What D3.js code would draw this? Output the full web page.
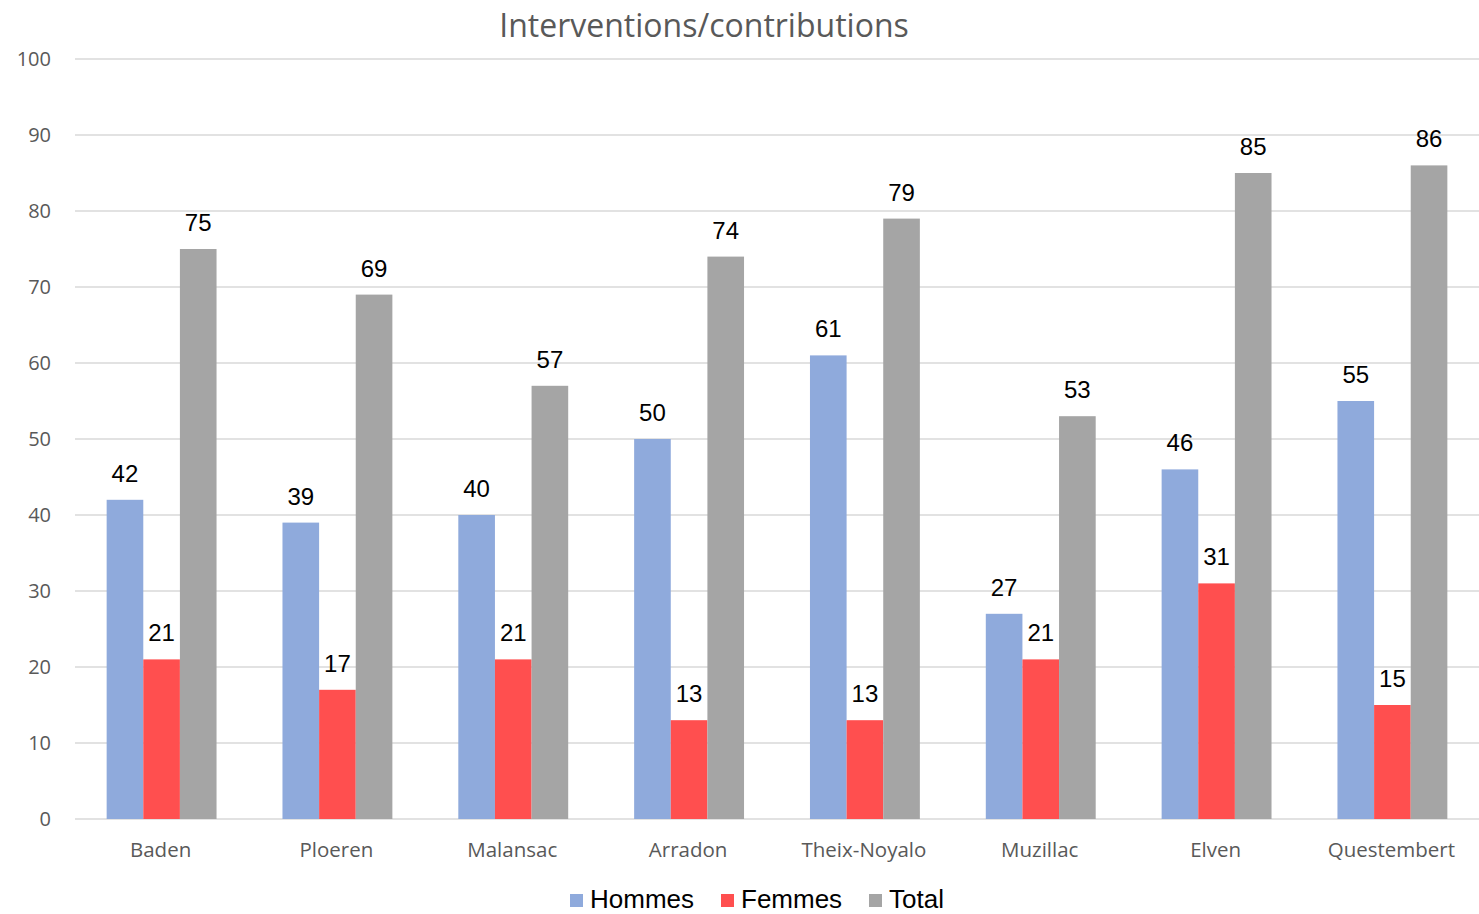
<!DOCTYPE html>
<html>
<head>
<meta charset="utf-8">
<script src="https://cdn.jsdelivr.net/npm/d3@7"></script>
<style>
  body { margin: 0; background: #fff; }
  svg { display: block; }
</style>
</head>
<body>
<div id="chart"></div>
<script>
var W = 1479, H = 914;

var communes = ["Baden", "Ploeren", "Malansac", "Arradon", "Theix-Noyalo", "Muzillac", "Elven", "Questembert"];
var seriesNames = ["Hommes", "Femmes", "Total"];
var hommes = [42, 39, 40, 50, 61, 27, 46, 55];
var femmes = [21, 17, 21, 13, 13, 21, 31, 15];
var total = [75, 69, 57, 74, 79, 53, 85, 86];
var yTicks = [0, 10, 20, 30, 40, 50, 60, 70, 80, 90, 100];
var colors = ["#8FAADC", "#FF4F4F", "#A5A5A5"];

var margin = {top: 59, right: 0, bottom: 95, left: 75};
var plotW = W - margin.left - margin.right;
var plotH = H - margin.top - margin.bottom;

var svg = d3.select("#chart")
	.append("svg")
	.attr("width", W)
	.attr("height", H);

svg.append("text")
	.attr("x", 704)
	.attr("y", 37)
	.attr("text-anchor", "middle")
	.style("font-family", "'Open Sans', sans-serif")
	.style("font-size", "32px")
	.style("fill", "#595959")
	.text("Interventions/contributions");

var g = svg.append("g")
	.attr("transform", "translate(" + margin.left + "," + margin.top + ")");

var x = d3.scaleBand().domain(communes).range([0, plotW]).paddingInner(0.375).paddingOuter(0.18);
var x1 = d3.scaleBand().domain(seriesNames).range([0, x.bandwidth()]);
var y = d3.scaleLinear().domain([0, 100]).range([plotH, 0]);

// gridlines
g.selectAll("line.grid")
	.data(yTicks)
	.enter().append("line")
	.attr("class", "grid")
	.attr("x1", 0)
	.attr("x2", plotW)
	.attr("y1", function(d) { return y(d); })
	.attr("y2", function(d) { return y(d); })
	.style("stroke", "#D9D9D9")
	.style("stroke-width", 1.5);

// y tick labels
g.selectAll("text.ytick")
	.data(yTicks)
	.enter().append("text")
	.attr("class", "ytick")
	.attr("x", -24)
	.attr("y", function(d) { return y(d); })
	.attr("dy", "0.35em")
	.attr("text-anchor", "end")
	.style("font-family", "'Open Sans', sans-serif")
	.style("font-size", "20px")
	.style("fill", "#595959")
	.text(function(d) { return d; });

var rows = communes.map(function(c, i) {
	return {commune: c, values: [hommes[i], femmes[i], total[i]]};
});

var groups = g.selectAll("g.group")
	.data(rows)
	.enter().append("g")
	.attr("class", "group")
	.attr("transform", function(d) { return "translate(" + x(d.commune) + ",0)"; });

groups.selectAll("rect")
	.data(function(d) { return d.values.map(function(v, k) { return {k: k, v: v}; }); })
	.enter().append("rect")
	.attr("x", function(d) { return x1(seriesNames[d.k]); })
	.attr("width", x1.bandwidth())
	.attr("y", function(d) { return y(d.v); })
	.attr("height", function(d) { return plotH - y(d.v); })
	.style("fill", function(d) { return colors[d.k]; });

groups.selectAll("text.val")
	.data(function(d) { return d.values.map(function(v, k) { return {k: k, v: v}; }); })
	.enter().append("text")
	.attr("class", "val")
	.attr("x", function(d) { return x1(seriesNames[d.k]) + x1.bandwidth() / 2; })
	.attr("y", function(d) { return y(d.v) - 18; })
	.attr("text-anchor", "middle")
	.style("font-family", "'Liberation Sans', Arial, sans-serif")
	.style("font-size", "24px")
	.style("fill", "#000")
	.text(function(d) { return d.v; });

// x axis labels
g.selectAll("text.xlab")
	.data(communes)
	.enter().append("text")
	.attr("class", "xlab")
	.attr("x", function(d) { return x(d) + x.bandwidth() / 2 - 1; })
	.attr("y", plotH + 38)
	.attr("text-anchor", "middle")
	.style("font-family", "'Open Sans', sans-serif")
	.style("font-size", "20.5px")
	.style("fill", "#595959")
	.text(function(d) { return d; });

// legend
var legendX = [570, 721, 869];
var legend = svg.selectAll("g.legend")
	.data(seriesNames)
	.enter().append("g")
	.attr("class", "legend")
	.attr("transform", function(d, i) { return "translate(" + legendX[i] + ",894)"; });

legend.append("rect")
	.attr("width", 13)
	.attr("height", 13)
	.style("fill", function(d, i) { return colors[i]; });

legend.append("text")
	.attr("x", 20)
	.attr("y", 14)
	.style("font-family", "'Liberation Sans', Arial, sans-serif")
	.style("font-size", "26px")
	.style("fill", "#000")
	.text(function(d) { return d; });
</script>
</body>
</html>
